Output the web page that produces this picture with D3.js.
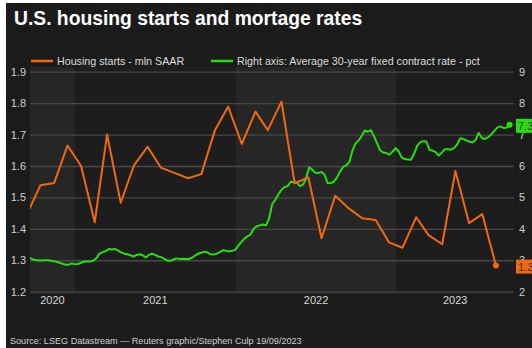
<!DOCTYPE html>
<html>
<head>
<meta charset="utf-8">
<script src="https://cdn.jsdelivr.net/npm/d3@7"></script>
<style>
  html, body { margin: 0; padding: 0; background: #ffffff; }
  svg { display: block; }
  text { font-family: "Liberation Sans", Arial, sans-serif; }
</style>
</head>
<body>
<script>
// Monthly housing starts, mln units SAAR, Sep 2020 – Aug 2023 (plotted mid-month)
const startsFirstMonth = [2020, 8];
const housingStarts = [
  1.45, 1.539, 1.546, 1.665,
  1.600, 1.421, 1.700, 1.483, 1.602, 1.661, 1.595, 1.578, 1.561, 1.574, 1.714, 1.789,
  1.670, 1.773, 1.714, 1.805, 1.545, 1.564, 1.370, 1.505, 1.465, 1.434, 1.428, 1.357,
  1.340, 1.437, 1.380, 1.351, 1.584, 1.418, 1.447, 1.283
];

// Weekly average 30-year fixed contract rate, pct, from 18 Sep 2020
const rateFirstWeek = [2020, 8, 18];
const mortgageRate = [
  3.10, 3.04, 3.01, 3.00, 2.99, 3.00, 3.00, 2.99, 2.97, 2.95,
  2.92, 2.89, 2.86, 2.86, 2.90, 2.87, 2.88, 2.92, 2.96, 2.96,
  2.96, 2.99, 3.07, 3.21, 3.26, 3.29, 3.36, 3.34, 3.36, 3.31,
  3.25, 3.21, 3.19, 3.16, 3.12, 3.17, 3.19, 3.16, 3.09, 3.17,
  3.21, 3.17, 3.12, 3.10, 3.04, 2.99, 2.98, 3.03, 3.06, 3.04,
  3.05, 3.04, 3.04, 3.08, 3.15, 3.21, 3.24, 3.27, 3.25, 3.19,
  3.18, 3.21, 3.26, 3.32, 3.30, 3.28, 3.30, 3.33, 3.47, 3.58,
  3.69, 3.76, 3.82, 4.01, 4.08, 4.11, 4.14, 4.11, 4.33, 4.79,
  4.92, 5.10, 5.24, 5.33, 5.36, 5.50, 5.48, 5.47, 5.36, 5.41,
  5.61, 5.96, 5.88, 5.78, 5.78, 5.81, 5.72, 5.45, 5.46, 5.50,
  5.63, 5.82, 5.97, 6.02, 6.12, 6.48, 6.71, 6.81, 6.95, 7.13,
  7.09, 7.14, 6.95, 6.73, 6.50, 6.43, 6.41, 6.36, 6.45, 6.57,
  6.47, 6.27, 6.22, 6.21, 6.20, 6.38, 6.64, 6.75, 6.79, 6.78,
  6.51, 6.49, 6.44, 6.33, 6.42, 6.53, 6.53, 6.52, 6.57, 6.69,
  6.88, 6.86, 6.81, 6.77, 6.75, 6.83, 7.05, 6.89, 6.86, 6.91,
  7.00, 7.11, 7.22, 7.26, 7.21, 7.22, 7.31
];

const leftTicks = [1.2, 1.3, 1.4, 1.5, 1.6, 1.7, 1.8, 1.9];
const rightTicks = [2, 3, 4, 5, 6, 7, 8, 9];
const years = [2020, 2021, 2022, 2023];

const titleText = "U.S. housing starts and mortage rates";
const legendStarts = "Housing starts - mln SAAR";
const legendRate = "Right axis: Average 30-year fixed contract rate - pct";
const sourceText = "Source: LSEG Datastream \u2014 Reuters graphic/Stephen Culp 19/09/2023";

const W = 532, H = 348;
const ORANGE = "#f0690f", GREEN = "#27df0c";
const plot = { left: 30, right: 514, top: 67, bottom: 294 };

const startsData = housingStarts.map((v, i) => ({
  date: new Date(Date.UTC(startsFirstMonth[0], startsFirstMonth[1] + i, 15)), value: v
}));
const rateData = mortgageRate.map((v, i) => ({
  date: new Date(Date.UTC(rateFirstWeek[0], rateFirstWeek[1], rateFirstWeek[2] + 7 * i)), value: v
}));

const x = d3.scaleUtc()
  .domain([new Date(Date.UTC(2020, 8, 21)), new Date(Date.UTC(2023, 8, 25))])
  .range([plot.left, plot.right]);
const yL = d3.scaleLinear().domain([1.2, 1.9]).range([291.7, 71.7]);
const yR = d3.scaleLinear().domain([2, 9]).range([291.7, 71.7]);

const svg = d3.select("body").append("svg").attr("width", W).attr("height", H);

// dark card
svg.append("rect").attr("x", 6).attr("y", 3).attr("width", W - 6).attr("height", H - 3)
  .attr("fill", "#1b1b1b");

// alternating year bands
years.forEach((yr, i) => {
  const x0 = Math.max(x(new Date(Date.UTC(yr, 0, 1))), plot.left);
  const x1 = Math.min(x(new Date(Date.UTC(yr + 1, 0, 1))), plot.right);
  svg.append("rect").attr("x", x0).attr("y", plot.top).attr("width", x1 - x0)
    .attr("height", plot.bottom - plot.top)
    .attr("fill", i % 2 === 0 ? "#262626" : "#1d1d1d");
  svg.append("text").attr("x", (x0 + x1) / 2).attr("y", 304)
    .attr("text-anchor", "middle").attr("font-size", 11).attr("fill", "#d8d8d8")
    .text(yr);
});

// gridlines + left axis labels
const gridAxis = d3.axisLeft(yL).tickValues(leftTicks).tickSize(-(plot.right - plot.left))
  .tickPadding(4).tickFormat(d3.format(".1f"));
const gL = svg.append("g").attr("transform", `translate(${plot.left},0)`).call(gridAxis);
gL.select(".domain").remove();
gL.selectAll("line").attr("stroke", "#474747").attr("stroke-width", 1.3);
gL.selectAll("text").attr("fill", "#d0d0d0").attr("font-size", 11)
  .attr("font-family", "Liberation Sans, Arial, sans-serif");

// right axis labels
const gR = svg.append("g").attr("transform", `translate(${plot.right},0)`)
  .call(d3.axisRight(yR).tickValues(rightTicks).tickSize(0).tickPadding(5).tickFormat(d3.format("d")));
gR.select(".domain").remove();
gR.selectAll("text").attr("fill", "#d0d0d0").attr("font-size", 11)
  .attr("font-family", "Liberation Sans, Arial, sans-serif");

// clip
svg.append("clipPath").attr("id", "plotClip").append("rect")
  .attr("x", plot.left).attr("y", 0).attr("width", plot.right - plot.left).attr("height", H);

const lineL = d3.line().x(d => x(d.date)).y(d => yL(d.value));
const lineR = d3.line().x(d => x(d.date)).y(d => yR(d.value));

svg.append("path").datum(rateData).attr("clip-path", "url(#plotClip)")
  .attr("d", lineR).attr("fill", "none").attr("stroke", GREEN).attr("stroke-width", 2)
  .attr("stroke-linejoin", "round");
svg.append("path").datum(startsData).attr("clip-path", "url(#plotClip)")
  .attr("d", lineL).attr("fill", "none").attr("stroke", ORANGE).attr("stroke-width", 2)
  .attr("stroke-linejoin", "round");

// end markers and value tags
const lastRate = rateData[rateData.length - 1];
const lastStart = startsData[startsData.length - 1];
svg.append("circle").attr("cx", x(lastRate.date)).attr("cy", yR(lastRate.value)).attr("r", 3).attr("fill", GREEN);
svg.append("circle").attr("cx", x(lastStart.date)).attr("cy", yL(lastStart.value)).attr("r", 3).attr("fill", ORANGE);

function tag(yPos, color, label) {
  svg.append("rect").attr("x", 516).attr("y", yPos - 7).attr("width", 20).attr("height", 14).attr("fill", color);
  svg.append("text").attr("x", 518).attr("y", yPos + 4).attr("font-size", 11)
    .attr("fill", "#333").text(label);
}
tag(yR(lastRate.value) + 1, GREEN, d3.format(".1f")(lastRate.value));
tag(yL(lastStart.value) + 1, ORANGE, d3.format(".1f")(lastStart.value));

// legend
const legend = svg.append("g");
legend.append("line").attr("x1", 31).attr("x2", 53).attr("y1", 61).attr("y2", 61)
  .attr("stroke", ORANGE).attr("stroke-width", 2.5);
legend.append("text").attr("x", 57).attr("y", 65).attr("font-size", 10.7).attr("fill", "#dddddd").text(legendStarts);
legend.append("line").attr("x1", 211).attr("x2", 233).attr("y1", 61).attr("y2", 61)
  .attr("stroke", GREEN).attr("stroke-width", 2.5);
legend.append("text").attr("x", 237).attr("y", 65).attr("font-size", 10.7).attr("fill", "#dddddd").text(legendRate);

// title and source
svg.append("text").attr("x", 14).attr("y", 25).attr("font-size", 19.3).attr("font-weight", "bold")
  .attr("fill", "#ffffff").text(titleText);
svg.append("text").attr("x", 10).attr("y", 344).attr("font-size", 9.1).attr("fill", "#d0d0d0").text(sourceText);
</script>
</body>
</html>
